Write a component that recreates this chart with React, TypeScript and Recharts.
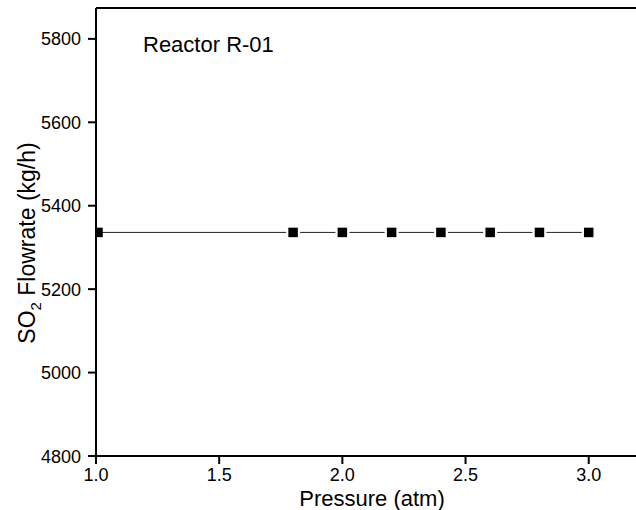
import React from "react";
import { LineChart, Line, XAxis, YAxis, ReferenceLine, Label } from "recharts";

const pressures = [1.0, 1.8, 2.0, 2.2, 2.4, 2.6, 2.8, 3.0];
const so2Flow = [5336, 5336, 5336, 5336, 5336, 5336, 5336, 5336];
const xTicks = [1.0, 1.5, 2.0, 2.5, 3.0];
const yTicks = [4800, 5000, 5200, 5400, 5600, 5800];
const xDomain = [1.0, 3.2];
const yDomain = [4800, 5874];

const data = pressures.map((p, i) => ({ p, v: so2Flow[i] }));

const FONT = "'Liberation Sans', Arial, sans-serif";

const SquareDot = (props: any) => {
  const { cx, cy, index } = props;
  if (cx == null || cy == null) return null;
  const s = 9.5;
  const pad = 14;
  if (index === 0) {
    return (
      <g key={`d${index}`}>
        <rect x={cx} y={cy - s / 2} width={s / 2 + 2} height={s} fill="#000" />
      </g>
    );
  }
  return (
    <g key={`d${index}`}>
      <rect x={cx - pad / 2} y={cy - pad / 2} width={pad} height={pad} fill="#fff" />
      <rect x={cx - s / 2} y={cy - s / 2} width={s} height={s} fill="#000" />
    </g>
  );
};

const XTick = (props: any) => {
  const { x, y, payload } = props;
  return (
    <text x={x} y={y + 15} textAnchor="middle" fontSize={18} fontFamily={FONT} fill="#000">
      {Number(payload.value).toFixed(1)}
    </text>
  );
};

const YTick = (props: any) => {
  const { x, y, payload } = props;
  return (
    <text x={x} y={y + 6.5} textAnchor="end" fontSize={18} fontFamily={FONT} fill="#000">
      {payload.value}
    </text>
  );
};

const XTitle = (props: any) => {
  const vb = props.viewBox || { x: 0, y: 0, width: 0, height: 0 };
  return (
    <text x={vb.x + vb.width / 2 + 5} y={vb.y + 50} textAnchor="middle" fontSize={22} fontFamily={FONT} fill="#000">
      Pressure (atm)
    </text>
  );
};

const YTitle = () => {
  return (
    <text x={0} y={0} transform="translate(35,243) rotate(-90)" textAnchor="middle" fontSize={23} fontFamily={FONT} fill="#000">
      SO
      <tspan fontSize={15} dy={6}>2</tspan>
      <tspan dy={-6}> Flowrate (kg/h)</tspan>
    </text>
  );
};

const TopNote = (props: any) => {
  const vb = props.viewBox || { x: 0, y: 0 };
  return (
    <text x={vb.x + 47} y={vb.y + 44} fontSize={22} fontFamily={FONT} fill="#000">
      Reactor R-01
    </text>
  );
};

export default function App() {
  return (
    <div style={{ position: "absolute", left: 0, top: 0, width: 636, height: 510, overflow: "hidden", background: "#fff" }}>
      <LineChart width={660} height={510} data={data} margin={{ top: 8, right: 22, left: 0, bottom: 0 }}>
        <XAxis
          dataKey="p"
          type="number"
          domain={xDomain}
          ticks={xTicks}
          allowDataOverflow
          height={54}
          stroke="#000"
          axisLine={{ stroke: "#000", strokeWidth: 2 }}
          tickLine={{ stroke: "#000", strokeWidth: 2 }}
          tickSize={8}
          tickMargin={2}
          tick={<XTick />}
        >
          <Label content={<XTitle />} />
        </XAxis>
        <YAxis
          type="number"
          domain={yDomain}
          ticks={yTicks}
          allowDataOverflow
          width={96}
          stroke="#000"
          axisLine={{ stroke: "#000", strokeWidth: 2 }}
          tickLine={{ stroke: "#000", strokeWidth: 2 }}
          tickSize={8}
          tickMargin={7}
          tick={<YTick />}
        >
          <Label content={<YTitle />} />
        </YAxis>
        <ReferenceLine y={5874} stroke="#000" strokeWidth={2} label={<TopNote />} />
        <Line
          dataKey="v"
          stroke="#222"
          strokeWidth={1}
          isAnimationActive={false}
          dot={(p: any) => <SquareDot {...p} />}
          activeDot={false}
        />
      </LineChart>
    </div>
  );
}
